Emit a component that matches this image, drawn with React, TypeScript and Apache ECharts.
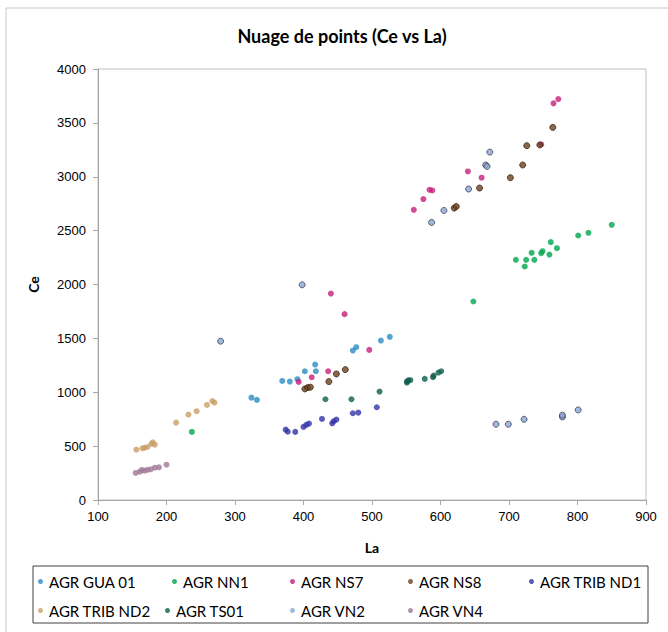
import React, { useEffect, useRef } from "react";
import * as echarts from "echarts";

const seriesNames = [
  "AGR GUA 01",
  "AGR NN1",
  "AGR NS7",
  "AGR NS8",
  "AGR TRIB ND1",
  "AGR TRIB ND2",
  "AGR TS01",
  "AGR VN2",
  "AGR VN4",
];

const gua01: number[][] = [
  [324, 950], [332, 929], [369, 1105], [380, 1099], [391, 1121], [402, 1195],
  [417, 1257], [418, 1195], [472, 1387], [477, 1418], [513, 1480], [526, 1514],
];
const nn1: number[][] = [
  [237, 632], [648, 1842], [710, 2229], [723, 2167], [725, 2229], [733, 2294],
  [737, 2229], [747, 2291], [749, 2309], [759, 2278], [761, 2393], [770, 2337],
  [801, 2455], [816, 2480], [850, 2554],
];
const ns7: number[][] = [
  [393, 1096], [412, 1139], [436, 1195], [440, 1916], [460, 1725], [496, 1393],
  [561, 2693], [575, 2793], [584, 2879], [588, 2873], [640, 3049], [660, 2991],
  [747, 3300], [765, 3681], [772, 3721],
];
const ns8: number[][] = [
  [402, 1031], [406, 1043], [410, 1047], [437, 1099], [448, 1170], [461, 1210],
  [620, 2709], [623, 2724], [657, 2895], [702, 2991], [720, 3109], [726, 3288],
  [745, 3295], [764, 3458],
];
const tribNd1: number[][] = [
  [374, 653], [377, 634], [388, 632], [400, 678], [404, 697], [408, 709],
  [427, 752], [442, 712], [444, 731], [448, 746], [472, 805], [480, 811],
  [507, 861],
];
const tribNd2: number[][] = [
  [156, 467], [165, 480], [168, 485], [172, 492], [178, 520], [180, 536],
  [183, 514], [214, 718], [232, 793], [244, 824], [259, 882], [267, 919],
  [270, 904],
];
const ts01: number[][] = [
  [432, 935], [470, 935], [511, 1006], [551, 1090], [551, 1100], [553, 1110],
  [556, 1112], [577, 1124], [589, 1140], [590, 1155], [597, 1183], [601, 1195],
];
const vn2: number[][] = [
  [279, 1474], [398, 1997], [587, 2576], [605, 2687], [641, 2886], [666, 3109],
  [668, 3096], [672, 3229], [681, 703], [699, 703], [722, 749], [778, 771],
  [778, 787], [801, 836],
];
const vn4: number[][] = [
  [155, 251], [161, 263], [164, 279], [168, 272], [172, 280], [177, 285],
  [183, 300], [189, 303], [200, 328],
];

const allData = [gua01, nn1, ns7, ns8, tribNd1, tribNd2, ts01, vn2, vn4];

const colors = [
  "#2b8cc4", "#00a650", "#c71f7b", "#6b4420", "#3232a8",
  "#c8a064", "#0e5e4c", "#8aa6d6", "#a07898",
];
const borders = [
  "#2b8cc4", "#00a650", "#c71f7b", "#3a2410", "#3232a8",
  "#c8a064", "#0e5e4c", "#404050", "#a07898",
];

const legendPos: number[][] = [
  [38, 574], [172, 574], [290, 574], [408, 574], [529, 574],
  [38, 603], [165, 603], [290, 603], [408, 603],
];

export default function App() {
  const ref = useRef<HTMLDivElement>(null);
  useEffect(() => {
    if (!ref.current) return;
    const chart = echarts.init(ref.current, undefined, { renderer: "svg" });
    const font = "'Liberation Sans', Arial, sans-serif";
    const lfont = "Lato, 'Open Sans', sans-serif";
    chart.setOption({
      animation: false,
      backgroundColor: "#ffffff",
      grid: {
        left: 98,
        right: 22,
        top: 69,
        bottom: 132,
        show: true,
        borderColor: "#bfbfbf",
        borderWidth: 1,
      },
      xAxis: {
        type: "value",
        min: 100,
        max: 900,
        interval: 100,
        name: "La",
        nameLocation: "middle",
        nameGap: 40,
        nameTextStyle: { fontFamily: lfont, fontWeight: "bold", fontSize: 14, color: "#000" },
        axisLine: { show: true, lineStyle: { color: "#a6a6a6" } },
        axisTick: { show: true, length: 5, lineStyle: { color: "#a6a6a6" } },
        axisLabel: {
          fontFamily: font, fontSize: 13, color: "#000", margin: 10,
          formatter: (v: number) => String(v),
        },
        splitLine: { show: false },
      },
      yAxis: {
        type: "value",
        min: 0,
        max: 4000,
        interval: 500,
        name: "Ce",
        nameLocation: "middle",
        nameGap: 58,
        nameRotate: 90,
        nameTextStyle: { fontFamily: lfont, fontWeight: "bold", fontSize: 14, color: "#000" },
        axisLine: { show: true, lineStyle: { color: "#a6a6a6" } },
        axisTick: { show: true, length: 5, lineStyle: { color: "#a6a6a6" } },
        axisLabel: {
          fontFamily: font, fontSize: 13, color: "#000", margin: 12,
          formatter: (v: number) => String(v),
        },
        splitLine: { show: false },
      },
      legend: seriesNames.map((n, i) => ({
        data: [n],
        left: legendPos[i][0],
        top: legendPos[i][1],
        orient: "horizontal",
        icon: "circle",
        itemWidth: 5,
        itemHeight: 5,
        itemGap: 4,
        padding: 0,
        itemStyle: { borderWidth: 0 },
        textStyle: { fontFamily: lfont, fontSize: 15, color: "#000", padding: [0, 0, 0, 1] },
        selectedMode: false,
      })),
      graphic: [
        {
          type: "rect",
          shape: { x: 6, y: 8, width: 700, height: 700 },
          style: { fill: "none", stroke: "#c8c8c8", lineWidth: 1 },
          silent: true,
        },
        {
          type: "rect",
          shape: { x: 33, y: 566, width: 615, height: 57 },
          style: { fill: "none", stroke: "#404040", lineWidth: 1 },
          silent: true,
        },
        {
          type: "text",
          x: 342,
          y: 36,
          style: {
            text: "Nuage de points (Ce vs La)",
            fontFamily: lfont,
            fontWeight: "bold",
            fontSize: 18,
            fill: "#000",
            align: "center",
            verticalAlign: "middle",
          },
        },
      ],
      series: seriesNames.map((n, i) => ({
        name: n,
        type: "scatter",
        data: allData[i],
        symbol: "circle",
        symbolSize: 6,
        itemStyle: {
          color: colors[i],
          borderColor: borders[i],
          borderWidth: i === 7 || i === 3 ? 1 : 0,
        },
      })),
    });
    return () => chart.dispose();
  }, []);
  return (
    <div
      ref={ref}
      style={{ position: "fixed", left: 0, top: 0, width: 668, height: 632 }}
    />
  );
}
